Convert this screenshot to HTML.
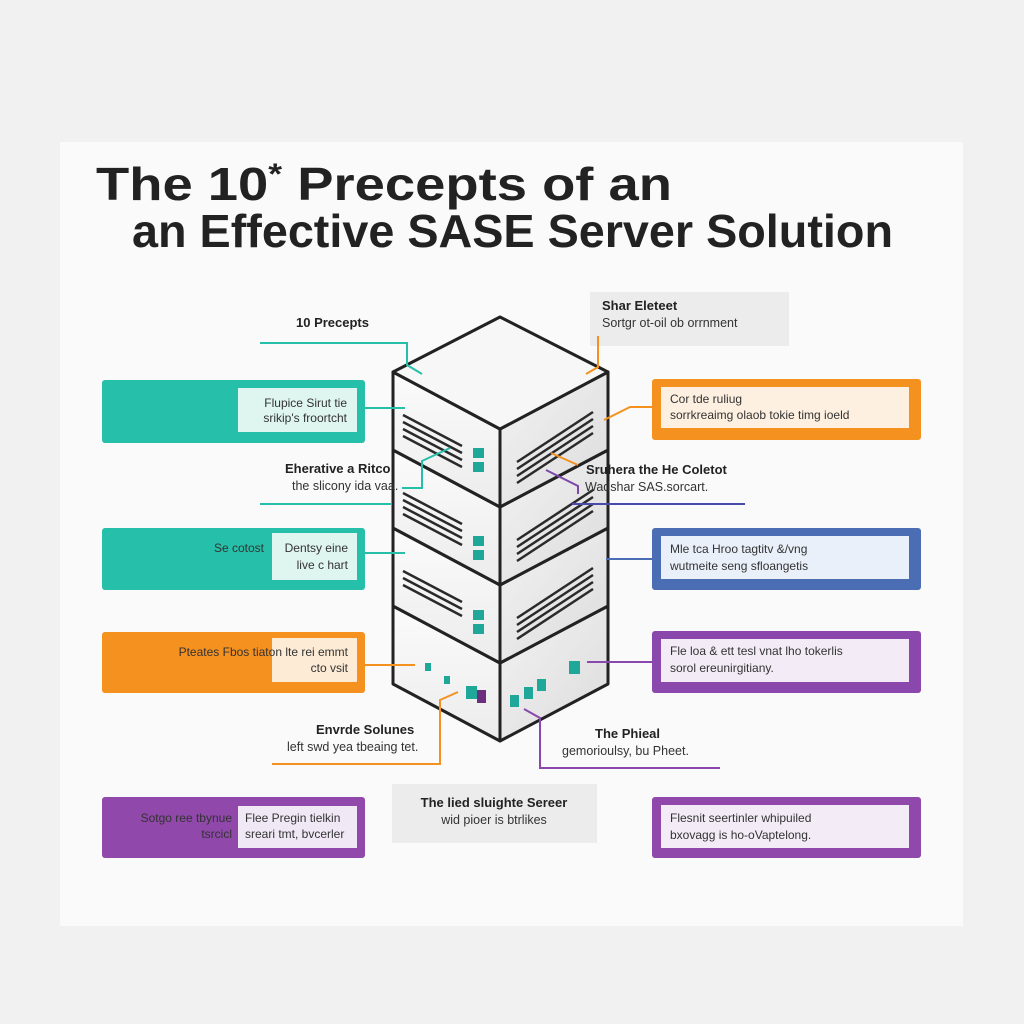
<!DOCTYPE html>
<html><head><meta charset="utf-8"><style>
html,body{margin:0;padding:0;background:#f1f1f1;}
svg{display:block;font-family:"Liberation Sans",sans-serif;}
</style></head><body>
<svg width="1024" height="1024" viewBox="0 0 1024 1024" xmlns="http://www.w3.org/2000/svg">
<defs>
<linearGradient id="rf" x1="0" y1="0" x2="1" y2="1"><stop offset="0" stop-color="#f2f2f2"/><stop offset="1" stop-color="#dcdcdc"/></linearGradient>
<linearGradient id="lf" x1="0" y1="0" x2="0" y2="1"><stop offset="0" stop-color="#fbfbfb"/><stop offset="1" stop-color="#ececec"/></linearGradient>
</defs>
<rect width="1024" height="1024" fill="#f1f1f1"/>
<rect x="60" y="142" width="903" height="784" fill="#fafafa"/>

<text x="96" y="200" font-size="46" font-weight="bold" fill="#222" textLength="576" lengthAdjust="spacingAndGlyphs">The 10<tspan font-size="30" dy="-16">*</tspan><tspan dy="16"> Precepts of an</tspan></text>
<text x="132" y="247" font-size="46" font-weight="bold" fill="#222" textLength="761" lengthAdjust="spacingAndGlyphs">an Effective SASE Server Solution</text>

<!-- gray boxes -->
<rect x="590" y="292" width="199" height="54" fill="#ececec"/>
<text x="602" y="310" font-size="13" font-weight="bold" fill="#222">Shar Eleteet</text>
<text x="602" y="327" font-size="12.5" fill="#333">Sortgr ot-oil ob orrnment</text>
<rect x="392" y="784" width="205" height="59" fill="#ececec"/>
<text x="494" y="807" font-size="13" font-weight="bold" fill="#222" text-anchor="middle">The lied sluighte Sereer</text>
<text x="494" y="824" font-size="12.5" fill="#333" text-anchor="middle">wid pioer is btrlikes</text>

<!-- left boxes -->
<rect x="102" y="380" width="263" height="63" rx="3" fill="#26bfa9"/>
<rect x="238" y="388" width="119" height="44" fill="#dff5f0"/>
<text x="347" y="407" font-size="12" fill="#333" text-anchor="end">Flupice Sirut tie</text>
<text x="347" y="422" font-size="12" fill="#333" text-anchor="end">srikip's froortcht</text>

<rect x="102" y="528" width="263" height="62" rx="3" fill="#26bfa9"/>
<text x="264" y="552" font-size="12" fill="#333" text-anchor="end">Se cotost</text>
<rect x="272" y="533" width="85" height="47" fill="#dff5f0"/>
<text x="348" y="552" font-size="12" fill="#333" text-anchor="end">Dentsy eine</text>
<text x="348" y="569" font-size="12" fill="#333" text-anchor="end">live c hart</text>

<rect x="102" y="632" width="263" height="61" rx="3" fill="#f5911f"/>
<rect x="272" y="638" width="85" height="44" fill="#fdebd6"/>
<text x="348" y="656" font-size="12" fill="#333" text-anchor="end">Pteates Fbos tiaton lte rei emmt</text>
<text x="348" y="672" font-size="12" fill="#333" text-anchor="end">cto vsit</text>

<rect x="102" y="797" width="263" height="61" rx="3" fill="#9048aa"/>
<rect x="238" y="806" width="119" height="42" fill="#f1e8f5"/>
<text x="232" y="822" font-size="12" fill="#333" text-anchor="end">Sotgo ree tbynue</text>
<text x="232" y="838" font-size="12" fill="#333" text-anchor="end">tsrcicl</text>
<text x="245" y="822" font-size="12" fill="#333">Flee Pregin tielkin</text>
<text x="245" y="838" font-size="12" fill="#333">sreari tmt, bvcerler</text>

<!-- right boxes -->
<rect x="652" y="379" width="269" height="61" rx="3" fill="#f5911f"/>
<rect x="661" y="387" width="248" height="41" fill="#fdf0e0"/>
<text x="670" y="403" font-size="12" fill="#333">Cor tde ruliug</text>
<text x="670" y="419" font-size="12" fill="#333">sorrkreaimg olaob tokie timg ioeld</text>

<rect x="652" y="528" width="269" height="62" rx="3" fill="#4a6db4"/>
<rect x="661" y="536" width="248" height="43" fill="#eaf0fa"/>
<text x="670" y="553" font-size="12" fill="#333">Mle tca Hroo tagtitv &amp;/vng</text>
<text x="670" y="570" font-size="12" fill="#333">wutmeite seng sfloangetis</text>

<rect x="652" y="631" width="269" height="62" rx="3" fill="#8a48ad"/>
<rect x="661" y="639" width="248" height="43" fill="#f3ecf7"/>
<text x="670" y="655" font-size="12" fill="#333">Fle loa &amp; ett tesl vnat lho tokerlis</text>
<text x="670" y="672" font-size="12" fill="#333">sorol ereunirgitiany.</text>

<rect x="652" y="797" width="269" height="61" rx="3" fill="#9048aa"/>
<rect x="661" y="805" width="248" height="43" fill="#f3ecf7"/>
<text x="670" y="822" font-size="12" fill="#333">Flesnit seertinler whipuiled</text>
<text x="670" y="839" font-size="12" fill="#333">bxovagg is ho-oVaptelong.</text>

<!-- server stack -->
<g stroke="#222" stroke-width="3" stroke-linejoin="round">
<polygon points="393,606 500,663 500,741 393,684" fill="url(#lf)"/>
<polygon points="500,663 608,606 608,684 500,741" fill="url(#rf)"/>
<polygon points="393,528 500,585 500,663 393,606" fill="url(#lf)"/>
<polygon points="500,585 608,528 608,606 500,663" fill="url(#rf)"/>
<polygon points="393,450 500,507 500,585 393,528" fill="url(#lf)"/>
<polygon points="500,507 608,450 608,528 500,585" fill="url(#rf)"/>
<polygon points="393,372 500,429 500,507 393,450" fill="url(#lf)"/>
<polygon points="500,429 608,372 608,450 500,507" fill="url(#rf)"/>
<polygon points="393,372 500,317 608,372 500,429" fill="#f7f7f7"/>
</g>
<g stroke="#2a2a2a" stroke-width="2.5">
<path d="M403,415 L462,446 M403,422 L462,453 M403,429 L462,460 M403,436 L462,467"/>
<path d="M517,462 L593,412 M517,469 L593,419 M517,476 L593,426 M517,483 L593,433"/>
<path d="M403,493 L462,524 M403,500 L462,531 M403,507 L462,538 M403,514 L462,545"/>
<path d="M517,540 L593,490 M517,547 L593,497 M517,554 L593,504 M517,561 L593,511"/>
<path d="M403,571 L462,602 M403,578 L462,609 M403,585 L462,616"/>
<path d="M517,618 L593,568 M517,625 L593,575 M517,632 L593,582 M517,639 L593,589"/>
</g>
<g fill="#1fa89a">
<rect x="473" y="448" width="11" height="10"/><rect x="473" y="462" width="11" height="10"/>
<rect x="473" y="536" width="11" height="10"/><rect x="473" y="550" width="11" height="10"/>
<rect x="473" y="610" width="11" height="10"/><rect x="473" y="624" width="11" height="10"/>
<rect x="425" y="663" width="6" height="8"/><rect x="444" y="676" width="6" height="8"/>
<rect x="466" y="686" width="11" height="13"/><rect x="510" y="695" width="9" height="12"/>
<rect x="524" y="687" width="9" height="12"/><rect x="537" y="679" width="9" height="12"/>
<rect x="569" y="661" width="11" height="13"/>
</g>
<rect x="477" y="690" width="9" height="13" fill="#6b2f7e"/>

<!-- labels (drawn over server) -->
<text x="296" y="327" font-size="13" font-weight="bold" fill="#222">10 Precepts</text>
<text x="285" y="473" font-size="13" font-weight="bold" fill="#222">Eherative a Ritco</text>
<text x="292" y="490" font-size="12.5" fill="#333">the slicony ida vaa.</text>
<text x="586" y="474" font-size="13" font-weight="bold" fill="#222">Sruhera the He Coletot</text>
<text x="585" y="491" font-size="12.5" fill="#333">Wadshar SAS.sorcart.</text>
<text x="316" y="734" font-size="13" font-weight="bold" fill="#222">Envrde Solunes</text>
<text x="287" y="751" font-size="12.5" fill="#333">left swd yea tbeaing tet.</text>
<text x="595" y="738" font-size="13" font-weight="bold" fill="#222">The Phieal</text>
<text x="562" y="755" font-size="12.5" fill="#333">gemorioulsy, bu Pheet.</text>

<!-- connectors -->
<g fill="none" stroke-width="2">
<path d="M260,343 H407 V365 L422,374" stroke="#26bfa9"/>
<path d="M357,408 H405" stroke="#26bfa9"/>
<path d="M260,504 H392" stroke="#26bfa9"/>
<path d="M402,488 H422 V461 L450,448" stroke="#26bfa9"/>
<path d="M357,553 H405" stroke="#26bfa9"/>
<path d="M357,665 H415" stroke="#f5911f"/>
<path d="M272,764 H440 V700 L458,692" stroke="#f5911f"/>
<path d="M598,336 V367 L586,374" stroke="#f5911f"/>
<path d="M652,407 H630 L604,420" stroke="#f5911f"/>
<path d="M551,453 L578,465" stroke="#f5911f"/>
<path d="M546,470 L578,486 V494" stroke="#7b4aa8"/>
<path d="M572,504 H745" stroke="#4a4aa8"/>
<path d="M652,559 H606" stroke="#4a6db4"/>
<path d="M652,662 H587" stroke="#8a48ad"/>
<path d="M524,709 L540,718 V768 H720" stroke="#8a48ad"/>
</g>
</svg>
</body></html>
